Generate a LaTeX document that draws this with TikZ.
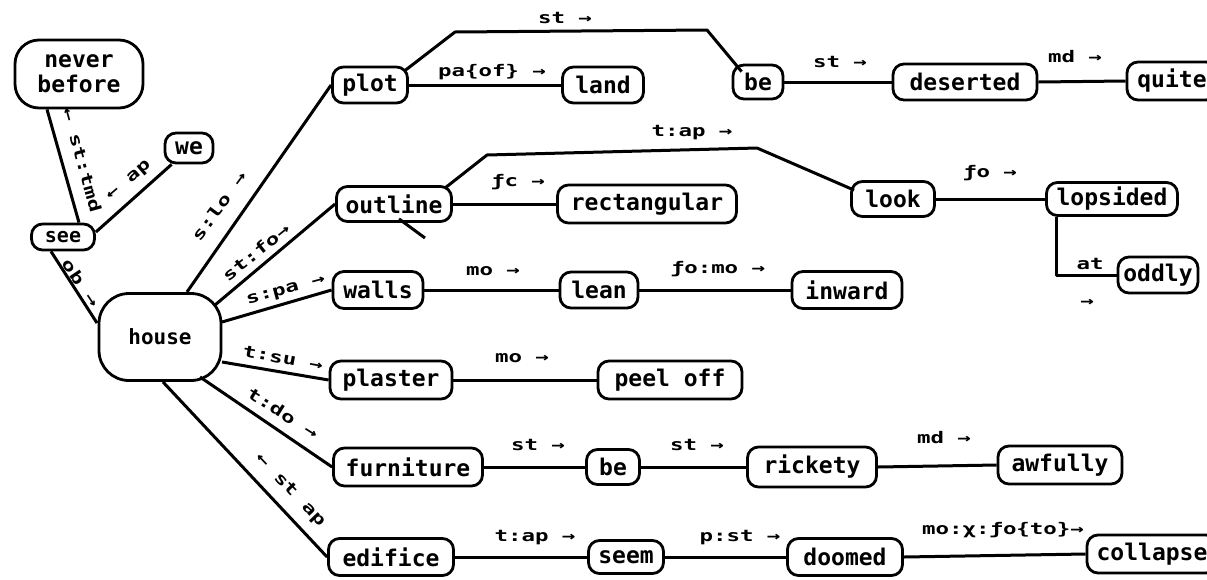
\documentclass[tikz,border=0pt]{standalone}
\usepackage{fontspec}
\newfontfamily\nfam{DejaVu Sans Mono}
\newfontfamily\lfam{DejaVu Sans Mono}[FakeStretch=1.4]
\begin{document}
\begin{tikzpicture}[x=1pt,y=-1pt,
  nd/.style={draw, line width=2.8pt, rounded corners=11pt, inner sep=0pt, font=\nfam\bfseries\fontsize{23}{25}\selectfont},
  lb/.style={inner sep=0pt, font=\lfam\bfseries\fontsize{16}{18}\selectfont},
  con/.style={line width=3pt, line join=round}]
\clip (0,0) rectangle (1207,579);
\fill[white] (0,0) rectangle (1207,579);
% nodes
\node[nd, rounded corners=24pt, minimum width=128pt, minimum height=68pt, align=center] (nb) at (79,74) {never\\before};
\node[nd, minimum width=48pt, minimum height=30pt] (we) at (189,148) {we};
\node[nd, minimum width=63pt, minimum height=26pt, font=\nfam\bfseries\fontsize{20}{22}\selectfont] (see) at (63,237) {see};
\node[nd, rounded corners=30pt, minimum width=122pt, minimum height=87pt, font=\nfam\bfseries\fontsize{21}{23}\selectfont] (house) at (160,337) {house};
\node[nd, minimum width=75pt, minimum height=36pt] (plot) at (370,85) {plot};
\node[nd, minimum width=81pt, minimum height=36pt] (land) at (603,85) {land};
\node[nd, minimum width=50pt, minimum height=34pt] (betop) at (758,82) {be};
\node[nd, minimum width=144pt, minimum height=36pt] (deserted) at (965,82) {deserted};
\node[nd, minimum width=90pt, minimum height=38pt] (quite) at (1172,81) {quite};
\node[nd, minimum width=115pt, minimum height=35pt] (outline) at (394,204) {outline};
\node[nd, minimum width=179pt, minimum height=38pt] (rect) at (647,204) {rectangular};
\node[nd, minimum width=83pt, minimum height=35pt] (look) at (893,199) {look};
\node[nd, minimum width=131pt, minimum height=33pt] (lopsided) at (1112,199) {lopsided};
\node[nd, minimum width=80pt, minimum height=36pt] (oddly) at (1158,275) {oddly};
\node[nd, minimum width=90pt, minimum height=37pt] (walls) at (378,290) {walls};
\node[nd, minimum width=78pt, minimum height=36pt] (lean) at (599,290) {lean};
\node[nd, minimum width=110pt, minimum height=37pt] (inward) at (847,290) {inward};
\node[nd, minimum width=122pt, minimum height=38pt] (plaster) at (391,380) {plaster};
\node[nd, minimum width=144pt, minimum height=38pt] (peel) at (670,380) {peel off};
\node[nd, minimum width=149pt, minimum height=38pt] (furniture) at (408,467) {furniture};
\node[nd, minimum width=53pt, minimum height=35pt] (bemid) at (613,467) {be};
\node[nd, minimum width=129pt, minimum height=40pt] (rickety) at (812,467) {rickety};
\node[nd, minimum width=124pt, minimum height=38pt] (awfully) at (1060,465) {awfully};
\node[nd, minimum width=125pt, minimum height=37pt] (edifice) at (391,557) {edifice};
\node[nd, minimum width=75pt, minimum height=33pt] (seem) at (626,557) {seem};
\node[nd, minimum width=115pt, minimum height=37pt] (doomed) at (845,557) {doomed};
\node[nd, minimum width=130pt, minimum height=38pt] (collapse) at (1152,554) {collapse};
% bend points
\coordinate (c1) at (455,32);
\coordinate (c2) at (707,30);
\coordinate (c3) at (487,155);
\coordinate (c4) at (757,148);
\coordinate (stray) at (425,238);
% connectors
\draw[con] ([xshift=-32pt]nb.south) -- ([xshift=16pt]see.north);
\draw[con] ([yshift=5pt]see.east) -- ([xshift=8pt]we.south west);
\draw[con] ([xshift=-12pt]see.south) -- ([xshift=-63pt,yshift=14pt]house.center);
\draw[con] ([xshift=27pt,yshift=45pt]house.center) -- (plot.west);
\draw[con] ([xshift=55pt,yshift=32pt]house.center) -- (outline.west);
\draw[con] ([xshift=62pt,yshift=15pt]house.center) -- (walls.west);
\draw[con] ([xshift=62pt,yshift=-25pt]house.center) -- (plaster.west);
\draw[con] ([xshift=40pt,yshift=-40pt]house.center) -- (furniture.west);
\draw[con] ([xshift=3pt,yshift=-45pt]house.center) -- (edifice.west);
\draw[con] ([xshift=-4pt,yshift=-5pt]plot.north east) -- (c1) -- (c2) -- ([xshift=10pt,yshift=-8pt]betop.north west);
\draw[con] (plot.east) -- (land.west);
\draw[con] (betop.east) -- (deserted.west);
\draw[con] (deserted.east) -- (quite.west);
\draw[con] ([xshift=-8pt,yshift=-3pt]outline.north east) -- (c3) -- (c4) -- ([xshift=4pt,yshift=-10pt]look.north west);
\draw[con] (outline.east) -- (rect.west);
\draw[con] ([xshift=5pt,yshift=4pt]outline.south) -- (stray);
\draw[con] (look.east) -- (lopsided.west);
\draw[con] ([xshift=11pt]lopsided.south west) |- (oddly.west);
\draw[con] (walls.east) -- (lean.west);
\draw[con] (lean.east) -- (inward.west);
\draw[con] (plaster.east) -- (peel.west);
\draw[con] (furniture.east) -- (bemid.west);
\draw[con] (bemid.east) -- (rickety.west);
\draw[con] (rickety.east) -- (awfully.west);
\draw[con] (edifice.east) -- (seem.west);
\draw[con] (seem.east) -- (doomed.west);
\draw[con] (doomed.east) -- (collapse.west);
% rotated labels
\node[lb, rotate=-74.5] (l1) at (82,160) {← st:tmd};
\node[lb, rotate=40.7] (l2) at (129,181) {← ap};
\node[lb, rotate=-56] (l3) at (81,283) {ob →};
\node[lb, rotate=53.6] (l4) at (219,206) {s:lo →};
\node[lb, rotate=38.8] (l5) at (256,252) {st:fo→};
\node[lb, rotate=14.9] (l6) at (286,291) {s:pa →};
\node[lb, rotate=-10.3] (l7) at (283,358) {t:su →};
\node[lb, rotate=-32.2] (l8) at (283,413) {t:do →};
\node[lb, rotate=-46.3] (l9) at (290,490) {← st ap};
% horizontal labels
\node[lb] (l10) at (565,18) {st →};
\node[lb] (l11) at (492,72) {pa\{of\} →};
\node[lb] (l12) at (840,62) {st →};
\node[lb] (l13) at (1075,57) {md →};
\node[lb] (l14) at (692,133) {t:ap →};
\node[lb] (l15) at (518,182) {ƒc →};
\node[lb] (l16) at (990,173) {ƒo →};
\node[lb] (l17) at (1090,264) {at};
\node[lb] (l18) at (1087,303) {→};
\node[lb] (l19) at (493,271) {mo →};
\node[lb] (l20) at (718,269) {ƒo:mo →};
\node[lb] (l21) at (522,358) {mo →};
\node[lb] (l22) at (538,445) {st →};
\node[lb] (l23) at (697,445) {st →};
\node[lb] (l24) at (944,438) {md →};
\node[lb] (l25) at (535,538) {t:ap →};
\node[lb] (l26) at (740,538) {p:st →};
\node[lb] (l27) at (1003,530) {mo:χ:ƒo\{to\}→};
\end{tikzpicture}
\end{document}
